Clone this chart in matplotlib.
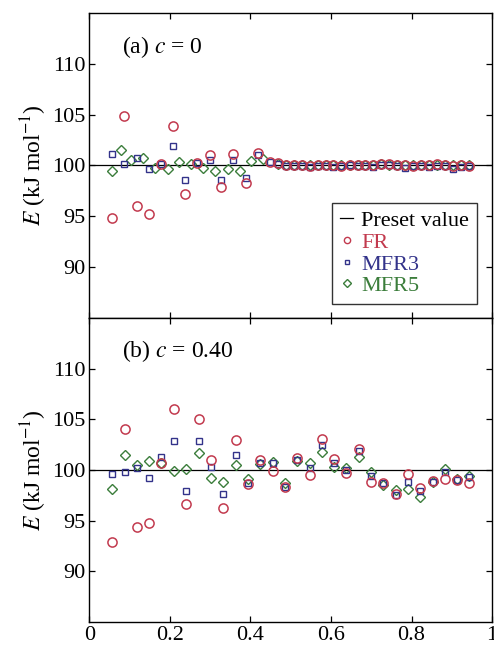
import numpy as np
import matplotlib.pyplot as plt
from matplotlib.lines import Line2D

plt.rcParams['font.family'] = ['Liberation Serif', 'DejaVu Serif']
plt.rcParams['mathtext.fontset'] = 'stix'

# ---- panel (a): c = 0 ----
x_a_head = [0.057, 0.087, 0.117, 0.147, 0.177, 0.208, 0.238, 0.268, 0.299, 0.327, 0.357, 0.389, 0.418, 0.448]
x_a_mfr5_head = [0.057, 0.078, 0.104, 0.133, 0.162, 0.194, 0.222, 0.253, 0.282, 0.313, 0.343, 0.374, 0.402, 0.432]
x_a_tail = [0.468, 0.488, 0.508, 0.527, 0.547, 0.567, 0.587, 0.606, 0.626, 0.646, 0.666, 0.685, 0.705,
            0.725, 0.745, 0.764, 0.784, 0.804, 0.824, 0.843, 0.863, 0.883, 0.903, 0.922, 0.942]

fr_a_head = [94.8, 104.9, 96.0, 95.2, 100.1, 103.9, 97.2, 100.2, 101.0, 97.9, 101.1, 98.3, 101.2, 100.3]
mfr3_a_head = [101.1, 100.1, 100.7, 99.6, 100.1, 101.9, 98.6, 100.2, 100.5, 98.6, 100.5, 98.8, 101.0, 100.3]
mfr5_a_head = [99.5, 101.5, 100.5, 100.7, 99.7, 99.6, 100.3, 100.1, 99.7, 99.5, 99.6, 99.5, 100.4, 100.6]

fr_a_tail = [100.2, 100.0, 100.0, 100.0, 99.9, 100.0, 100.0, 100.0, 99.9, 100.0, 100.0, 100.0, 100.0,
             100.1, 100.1, 100.0, 100.0, 99.9, 100.0, 100.0, 100.1, 100.0, 99.9, 100.0, 99.9]
mfr3_a_tail = [100.1, 99.9, 99.9, 99.9, 99.8, 99.9, 99.9, 99.8, 99.9, 100.0, 99.9, 99.9, 99.8,
               100.0, 100.0, 99.9, 99.7, 99.9, 99.9, 99.8, 99.9, 99.9, 99.6, 99.8, 99.9]
mfr5_a_tail = [100.1, 100.0, 100.0, 100.0, 100.0, 100.0, 100.0, 100.0, 100.0, 100.0, 100.0, 100.0, 100.0,
               100.1, 100.0, 100.0, 100.0, 100.0, 100.0, 100.0, 100.0, 100.0, 100.0, 100.0, 100.0]

# ---- panel (b): c = 0.40 ----
x_b = [0.057, 0.088, 0.118, 0.149, 0.179, 0.210, 0.241, 0.271, 0.302, 0.332, 0.363, 0.394, 0.424, 0.455, 0.485,
       0.516, 0.547, 0.577, 0.608, 0.638, 0.669, 0.700, 0.730, 0.761, 0.791, 0.822, 0.853, 0.883, 0.914, 0.944]
fr_b = [92.9, 104.0, 94.4, 94.8, 100.7, 106.0, 96.6, 105.0, 101.0, 96.2, 103.0, 98.6, 101.0, 99.9, 98.3,
        101.2, 99.5, 103.1, 101.1, 99.7, 102.1, 98.8, 98.7, 97.6, 99.6, 98.2, 98.9, 99.1, 99.0, 98.7]
mfr3_b = [99.6, 99.8, 100.2, 99.2, 101.3, 102.9, 97.9, 102.9, 100.3, 97.6, 101.5, 98.7, 100.7, 100.7, 98.3,
          101.0, 100.2, 102.5, 100.7, 100.0, 101.9, 99.4, 98.7, 97.5, 98.8, 97.9, 98.8, 99.8, 99.0, 99.3]
mfr5_b = [98.1, 101.5, 100.5, 100.9, 100.7, 99.9, 100.1, 101.7, 99.2, 98.8, 100.5, 99.1, 100.6, 100.8, 98.7,
          100.9, 100.7, 101.8, 100.3, 100.2, 101.3, 99.8, 98.5, 98.0, 98.1, 97.3, 98.8, 100.1, 99.1, 99.4]

preset = 100.0
yticks = [90, 95, 100, 105, 110]
xticks = [0, 0.2, 0.4, 0.6, 0.8, 1.0]
xticklabels = ['0', '0.2', '0.4', '0.6', '0.8', '1']

c_fr = '#c23a4e'
c_m3 = '#33338a'
c_m5 = '#3b7d3b'

fig = plt.figure(figsize=(4.94, 6.5), dpi=100)
ax_a = fig.add_axes([0.181, 0.511, 0.815, 0.469])
ax_b = fig.add_axes([0.181, 0.043, 0.815, 0.468])

def draw_panel(ax, x_fr, fr, x_m3, m3, x_m5, m5, label):
    ax.axhline(preset, color='k', lw=0.9, zorder=1)
    ax.plot(x_m5, m5, 'D', ms=5.0, mfc='none', mec=c_m5, mew=1.0, ls='none')
    ax.plot(x_m3, m3, 's', ms=4.6, mfc='none', mec=c_m3, mew=1.0, ls='none')
    ax.plot(x_fr, fr, 'o', ms=6.6, mfc='none', mec=c_fr, mew=1.1, ls='none')
    ax.set_xlim(0, 1)
    ax.set_ylim(85, 115)
    ax.set_yticks(yticks)
    ax.set_xticks(xticks)
    ax.set_xticklabels(xticklabels)
    ax.tick_params(direction='in', length=4, width=0.9, top=True, right=True, labelsize=16, pad=3)
    for sp in ax.spines.values():
        sp.set_linewidth(1.0)
    ax.set_ylabel(r'$E$ (kJ mol$^{-1}$)', fontsize=17, labelpad=2)
    ax.text(0.081, 0.89, label, transform=ax.transAxes, fontsize=17, va='center', ha='left')

x_a_fr = x_a_head + x_a_tail
x_a_m5 = x_a_mfr5_head + x_a_tail
draw_panel(ax_a, x_a_fr, fr_a_head + fr_a_tail, x_a_fr, mfr3_a_head + mfr3_a_tail,
           x_a_m5, mfr5_a_head + mfr5_a_tail, r'(a) $c$ = 0')
draw_panel(ax_b, x_b, fr_b, x_b, mfr3_b, x_b, mfr5_b, r'(b) $c$ = 0.40')
ax_a.tick_params(labelbottom=False)

handles = [
    Line2D([], [], color='k', lw=0.9),
    Line2D([], [], marker='o', ls='none', ms=4.5, mfc='none', mec=c_fr, mew=1.0),
    Line2D([], [], marker='s', ls='none', ms=3.5, mfc='none', mec=c_m3, mew=1.0),
    Line2D([], [], marker='D', ls='none', ms=3.8, mfc='none', mec=c_m5, mew=1.0),
]
leg = ax_a.legend(handles, ['Preset value', 'FR', 'MFR3', 'MFR5'], loc='upper left',
                  bbox_to_anchor=(0.603, 0.377), fontsize=16, handlelength=0.6,
                  handletextpad=0.35, labelspacing=0.05, borderpad=0.35, borderaxespad=0,
                  fancybox=False, frameon=True, labelcolor=['k', c_fr, c_m3, c_m5])
leg.get_frame().set_edgecolor('k')
leg.get_frame().set_linewidth(1.0)

fig.savefig('out.png', dpi=100)
